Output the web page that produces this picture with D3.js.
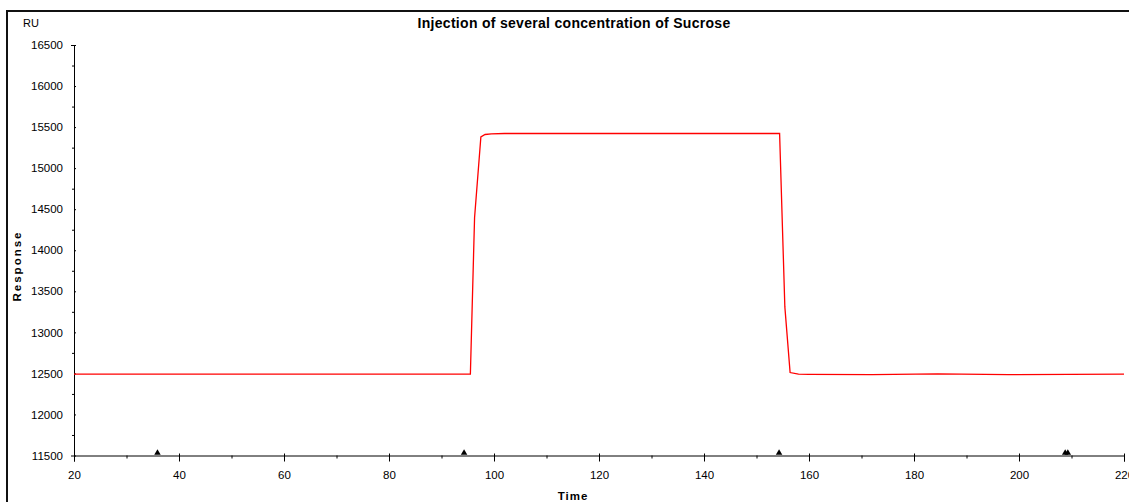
<!DOCTYPE html>
<html>
<head>
<meta charset="utf-8">
<script src="https://cdn.jsdelivr.net/npm/d3@7"></script>
<style>
  body { margin: 0; background: #fff; }
  svg { display: block; font-family: "Liberation Sans", Arial, sans-serif; }
</style>
</head>
<body>
<svg id="chart" width="1129" height="502"></svg>
<script>
// Sensorgram (time in s, response in RU)
const times = [20, 95.5, 96.3, 97.5, 98.3, 99.5, 102, 154.4, 155.4, 156.4, 158, 160, 172, 184.5, 198, 220];
const response = [12492, 12492, 14400, 15380, 15410, 15418, 15422, 15422, 13310, 12510, 12490, 12488, 12484, 12494, 12484, 12490];

// injection markers on the time axis
const markerTimes = [35.9, 94.3, 154.3, 208.8, 209.3];

const xMajor = [20, 40, 60, 80, 100, 120, 140, 160, 180, 200, 220];
const xMinor = [30, 50, 70, 90, 110, 130, 150, 170, 190, 210];
const yMajor = [11500, 12000, 12500, 13000, 13500, 14000, 14500, 15000, 15500, 16000, 16500];
const yMinor = [11750, 12250, 12750, 13250, 13750, 14250, 14750, 15250, 15750, 16250];

const svg = d3.select("#chart");

const x = d3.scaleLinear().domain([20, 220]).range([74, 1124]);
const y = d3.scaleLinear().domain([11500, 16500]).range([455.5, 45]);

// frame lines (left and top)
svg.append("line")
    .attr("x1", 7).attr("x2", 7).attr("y1", 11).attr("y2", 502)
    .attr("stroke", "#111").attr("stroke-width", 2);
svg.append("line")
    .attr("x1", 6).attr("x2", 1129).attr("y1", 11).attr("y2", 11)
    .attr("stroke", "#111").attr("stroke-width", 2);

// minor ticks
const xMinorAxis = svg.append("g")
    .attr("transform", "translate(0," + y(11500) + ")")
    .call(d3.axisBottom(x).tickValues(xMinor).tickSize(3).tickFormat(""));
xMinorAxis.select(".domain").remove();

const yMinorAxis = svg.append("g")
    .attr("transform", "translate(" + x(20) + ",0)")
    .call(d3.axisLeft(y).tickValues(yMinor).tickSize(2).tickFormat(""));
yMinorAxis.select(".domain").remove();

// major axes
const xAxis = svg.append("g")
    .attr("transform", "translate(0," + y(11500) + ")")
    .call(d3.axisBottom(x).tickValues(xMajor).tickSizeOuter(0).tickSize(6).tickPadding(9));
xAxis.selectAll(".tick line").attr("y1", -2);

const yAxis = svg.append("g")
    .attr("transform", "translate(" + x(20) + ",0)")
    .call(d3.axisLeft(y).tickValues(yMajor).tickSizeOuter(0).tickSize(3).tickPadding(8).tickFormat(d3.format("d")));
yAxis.selectAll(".tick line").attr("x2", 2);

svg.selectAll(".tick text")
    .attr("font-size", 11.5)
    .attr("font-family", "Liberation Sans, Arial, sans-serif")
    .attr("fill", "#000");
svg.selectAll(".domain, .tick line").attr("stroke", "#000");

// response curve
const line = d3.line()
    .x(function(d, i) { return x(times[i]); })
    .y(function(d) { return y(d); });

svg.append("path")
    .datum(response)
    .attr("d", line)
    .attr("fill", "none")
    .attr("stroke", "#ff0000")
    .attr("stroke-width", 1.3);

// marker triangles
svg.selectAll(".marker")
    .data(markerTimes)
    .enter().append("path")
    .attr("class", "marker")
    .attr("d", d3.symbol().type(d3.symbolTriangle).size(18))
    .attr("transform", function(d) { return "translate(" + x(d) + "," + (y(11500) - 2.5) + ")"; })
    .attr("fill", "#000");

// texts
svg.append("text")
    .attr("x", 574).attr("y", 28)
    .attr("text-anchor", "middle")
    .attr("font-size", 14).attr("font-weight", "bold")
    .attr("letter-spacing", 0.3)
    .text("Injection of several concentration of Sucrose");

svg.append("text")
    .attr("x", 23).attr("y", 27)
    .attr("font-size", 11)
    .text("RU");

svg.append("text")
    .attr("transform", "translate(21,266) rotate(-90)")
    .attr("text-anchor", "middle")
    .attr("font-size", 11.5).attr("font-weight", "bold")
    .attr("letter-spacing", 2)
    .text("Response");

svg.append("text")
    .attr("x", 573).attr("y", 500)
    .attr("text-anchor", "middle")
    .attr("font-size", 11.5).attr("font-weight", "bold")
    .attr("letter-spacing", 1)
    .text("Time");
</script>
</body>
</html>
